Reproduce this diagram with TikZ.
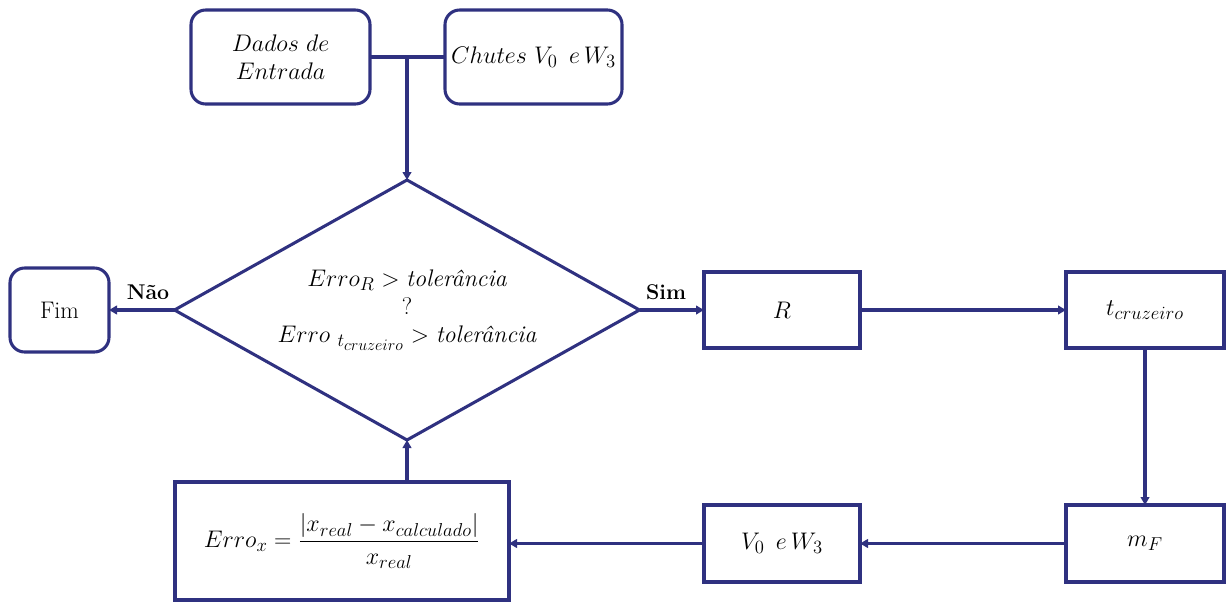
\RequirePackage{fix-cm}
\documentclass[tikz,border=0pt]{standalone}
\usepackage{amsmath}
\usetikzlibrary{shapes.geometric,arrows.meta}
\definecolor{navy}{RGB}{47,49,128}
\DeclareMathSizes{18}{18}{14}{12}
\newcommand{\tol}{\textit{tolerância}}
\begin{document}
\begin{tikzpicture}[x=0.75pt,y=-0.75pt,
  line width=2.3pt,
  every node/.style={font=\fontsize{18}{22}\selectfont, inner sep=0pt, outer sep=0pt},
  rbox/.style={draw=navy, rounded corners=11pt, align=center},
  sbox/.style={draw=navy, align=center},
  decision/.style={draw=navy, diamond, aspect=1.79, minimum width=348.75pt, minimum height=195pt, align=center},
  flow/.style={draw=navy, -{Triangle[length=6pt,width=6.5pt]}},
  link/.style={draw=navy},
  tag/.style={font=\fontsize{16}{18}\selectfont\bfseries}]
  \useasboundingbox (0,0) rectangle (1226,603);

  % input boxes
  \node[rbox, minimum width=134.25pt, minimum height=70.5pt] (dados) at (280.5,57)
    {$Dados\ de$\\[-1pt]$Entrada$};
  \node[rbox, minimum width=132.75pt, minimum height=70.5pt] (chutes) at (533.5,57)
    {$Chutes\ V_0\ \,e\,W_3$};

  % decision
  \node[decision] (dec) at (407,310)
    {$Erro_R > \tol$\\[-1pt]$?$\\[-1pt]$Erro\ {}_{t_{cruzeiro}} > \tol$};

  % end
  \node[rbox, minimum width=74.25pt, minimum height=63pt] (fim) at (59.5,310) {Fim};

  % process loop
  \node[sbox, minimum width=117pt, minimum height=57pt] (R) at (782,310) {$R$};
  \node[sbox, minimum width=118.5pt, minimum height=57pt] (tc) at (1145,310) {$t_{cruzeiro}$};
  \node[sbox, minimum width=118.5pt, minimum height=57.75pt] (mF) at (1145,543.5) {$m_F$};
  \node[sbox, minimum width=117pt, minimum height=57.75pt] (V0) at (782,543.5) {$V_0\ \,e\,W_3$};
  \node[sbox, minimum width=250.5pt, minimum height=88.5pt] (erro) at (342,541)
    {$Erro_x = \dfrac{|x_{real} - x_{calculado}|}{x_{real}}$};

  % connectors
  \draw[link] (dados.east) -- (chutes.west);
  \coordinate (join) at (dados.east -| dec.north);
  \draw[flow] (join) -- (dec.north);
  \draw[flow] (dec.west) -- (fim.east);
  \draw[flow] (dec.east) -- (R.west);
  \draw[flow] (R.east) -- (tc.west);
  \draw[flow] (tc.south) -- (mF.north);
  \draw[flow] (mF.west) -- (V0.east);
  \draw[flow] (V0.west) -- (V0.west -| erro.east);
  \draw[flow] (dec.south |- erro.north) -- (dec.south);

  % branch labels
  \node[tag] (nao) at (148,292) {Não};
  \node[tag] (sim) at (666,292) {Sim};
\end{tikzpicture}
\end{document}
